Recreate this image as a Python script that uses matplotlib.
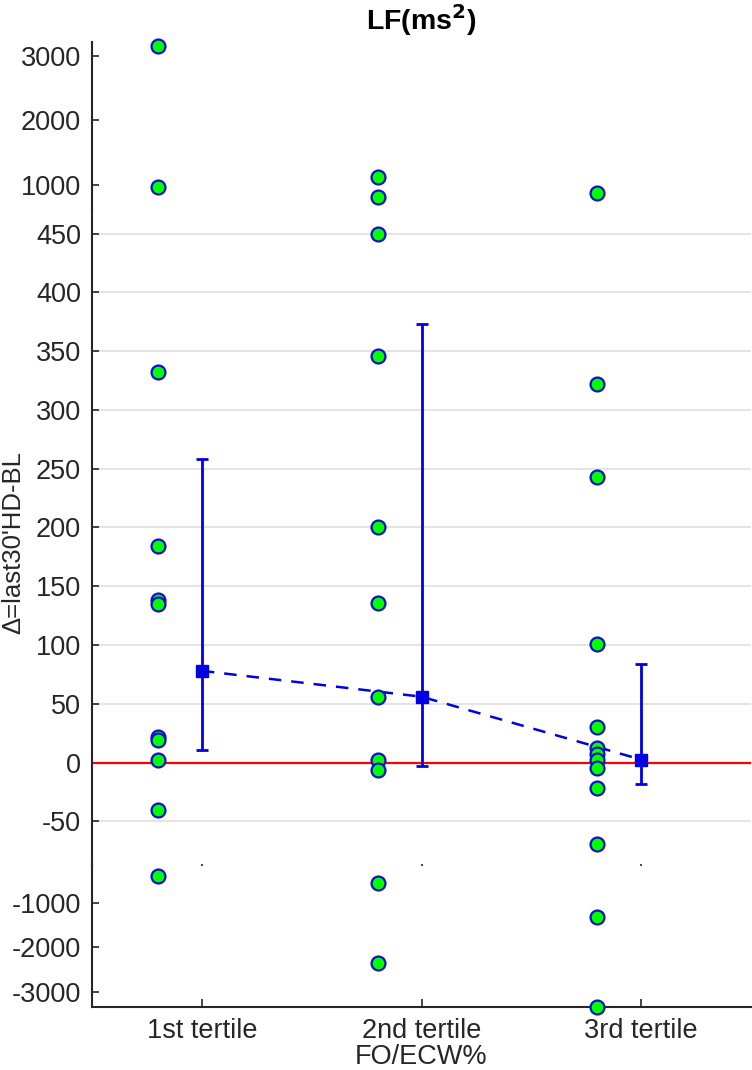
import matplotlib
matplotlib.use("Agg")
import matplotlib.pyplot as plt
import numpy as np

plt.rcParams['font.family'] = ['Liberation Sans', 'DejaVu Sans']
plt.rcParams['axes.unicode_minus'] = False

# data
groups = ["1st tertile", "2nd tertile", "3rd tertile"]
tert1 = [3155, 965, 332, 184, 138, 135, 22, 19, 2, -40, -380]
tert2 = [1129, 809, 450, 346, 200, 136, 56, 2, -6, -532, -2350]
tert3 = [871, 322, 243, 101, 30, 12, 7, 2, -5, -22, -69, -1305, -3340]
means = [78, 56, 2.5]
err_lo = [11, -3, -18]
err_hi = [258, 373, 84]

mid_ticks = [-50, 0, 50, 100, 150, 200, 250, 300, 350, 400, 450]
top_ticks = [1000, 2000, 3000]
bot_ticks = [-3000, -2000, -1000]

ink = '#262626'
fs = 19.5

W, H = 752, 1070
fig = plt.figure(figsize=(W / 100, H / 100), dpi=100)
x0 = 92 / W
w = (751 - 92) / W

def box(top_px, bot_px):
    return [x0, 1 - bot_px / H, w, (bot_px - top_px) / H]

ax_top = fig.add_axes(box(42, 210))
ax_mid = fig.add_axes(box(210, 866))
ax_bot = fig.add_axes(box(864, 1007))

ax_top.set_ylim(612, 3217)
ax_mid.set_ylim(-88, 470)
ax_bot.set_ylim(-3346, -112)

for ax in (ax_top, ax_mid, ax_bot):
    ax.set_xlim(0.5, 3.5)
    ax.patch.set_alpha(0)
    for s in ('top', 'right'):
        ax.spines[s].set_visible(False)
    ax.spines['left'].set_color(ink)
    ax.spines['left'].set_linewidth(1.5)
    ax.tick_params(axis='y', direction='in', length=5, width=1.2, colors=ink,
                   labelsize=fs, pad=8)

ax_top.set_yticks(top_ticks)
ax_mid.set_yticks(mid_ticks)
ax_bot.set_yticks(bot_ticks)

# top axis: no x axis
ax_top.spines['bottom'].set_visible(False)
ax_top.set_xticks([])

# middle axis: tiny x ticks only
ax_mid.spines['bottom'].set_visible(False)
ax_mid.set_xticks([1, 2, 3])
ax_mid.tick_params(axis='x', direction='in', length=1.5, width=1.2, colors=ink,
                   labelbottom=False)
ax_mid.yaxis.grid(True, color='#E2E2E2', lw=1.3)
ax_mid.set_axisbelow(True)
ax_mid.axhline(0, color='red', lw=1.6, zorder=2)

# bottom axis
ax_bot.spines['bottom'].set_color(ink)
ax_bot.spines['bottom'].set_linewidth(1.5)
ax_bot.set_xticks([1, 2, 3])
ax_bot.set_xticklabels(groups)
ax_bot.tick_params(axis='x', direction='in', length=6, width=1.2, colors=ink,
                   labelsize=fs, pad=8)
ax_bot.set_xlabel("FO/ECW%", fontsize=fs, color=ink, labelpad=0)

# individual points, each drawn on the segment whose range holds it
for i, vals in enumerate([tert1, tert2, tert3]):
    vals = np.array(vals, dtype=float)
    xs = np.full(len(vals), i + 1 - 0.2)
    for ax in (ax_top, ax_mid, ax_bot):
        lo, hi = ax.get_ylim()
        m = (vals >= lo) & (vals <= hi)
        ax.plot(xs[m], vals[m], 'o', ms=10, mfc='#00FF00', mec='#1010C8',
                mew=1.6, clip_on=False, zorder=4)

# mean + error bars
xm = np.array([1, 2, 3])
means = np.array(means)
ax_mid.plot(xm, means, '--', color='#0000E6', lw=1.8, dashes=(5, 4), zorder=3)
ax_mid.errorbar(xm, means, yerr=[means - np.array(err_lo), np.array(err_hi) - means],
                fmt='s', color='#0000E6', ms=9, elinewidth=2, capsize=4,
                capthick=2, zorder=5)

fig.text(421.5 / W, 1 - 20 / H, r"LF(ms$^{\mathbf{2}}$)", ha='center', va='center',
         fontsize=fs + 1, fontweight='bold', color='black')
fig.text(13 / W, 1 - 542 / H, "Δ=last30'HD-BL", rotation=90, ha='center',
         va='center', fontsize=fs - 1, color=ink)

fig.savefig("out.png", dpi=100)
